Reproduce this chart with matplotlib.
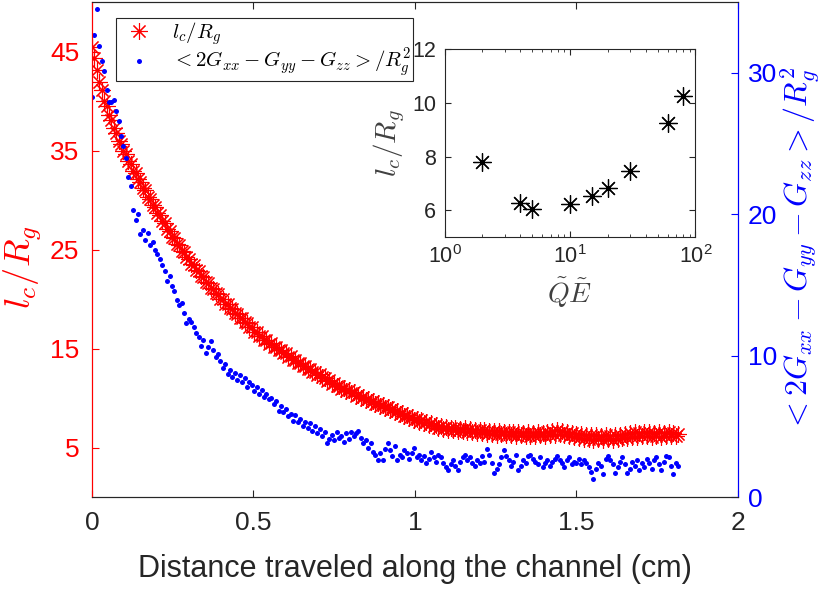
import numpy as np
import matplotlib
matplotlib.use('Agg')
import matplotlib.pyplot as plt

plt.rcParams['font.family'] = ['Liberation Sans', 'DejaVu Sans']
plt.rcParams['mathtext.fontset'] = 'cm'

# sampling step along the channel (cm)
step = 0.0075

# coil length over radius of gyration
lc_rg = [
    45.5, 44.3, 43.1, 41.9, 41.1, 40.0, 39.5, 38.6, 38.1, 37.3,
    36.8, 36.0, 35.7, 35.0, 34.6, 33.9, 33.6, 32.9, 32.7, 32.1,
    31.8, 31.2, 31.0, 30.3, 30.1, 29.5, 29.3, 28.7, 28.5, 27.9,
    27.7, 27.1, 26.9, 26.3, 26.2, 25.6, 25.5, 24.9, 24.7, 24.2,
    24.0, 23.5, 23.4, 22.9, 22.8, 22.3, 22.2, 21.7, 21.6, 21.1,
    21.0, 20.6, 20.5, 20.0, 20.0, 19.5, 19.5, 19.1, 19.0, 18.6,
    18.5, 18.1, 18.1, 17.7, 17.6, 17.2, 17.2, 16.7, 16.7, 16.3,
    16.3, 15.9, 15.9, 15.5, 15.6, 15.2, 15.2, 14.8, 14.8, 14.5,
    14.5, 14.1, 14.2, 13.8, 13.8, 13.5, 13.5, 13.2, 13.2, 12.9,
    12.9, 12.6, 12.6, 12.3, 12.4, 12.1, 12.0, 11.7, 11.8, 11.4,
    11.5, 11.2, 11.2, 10.9, 11.0, 10.7, 10.8, 10.5, 10.6, 10.2,
    10.3, 10.0, 10.1, 9.8, 9.9, 9.6, 9.7, 9.4, 9.5, 9.2,
    9.3, 9.0, 9.1, 8.8, 8.9, 8.6, 8.7, 8.4, 8.5, 8.2,
    8.3, 8.0, 8.1, 7.8, 7.9, 7.6, 7.8, 7.5, 7.6, 7.3,
    7.5, 7.2, 7.3, 7.0, 7.2, 6.9, 7.1, 6.8, 7.0, 6.8,
    7.0, 6.7, 6.9, 6.7, 7.0, 6.6, 6.9, 6.6, 6.8, 6.5,
    6.8, 6.5, 6.8, 6.4, 6.7, 6.4, 6.7, 6.3, 6.7, 6.4,
    6.6, 6.3, 6.6, 6.3, 6.6, 6.2, 6.6, 6.3, 6.5, 6.2,
    6.6, 6.2, 6.5, 6.2, 6.6, 6.3, 6.5, 6.2, 6.6, 6.3,
    6.7, 6.3, 6.8, 6.4, 6.7, 6.3, 6.6, 6.2, 6.5, 6.1,
    6.4, 6.0, 6.4, 5.9, 6.3, 5.9, 6.3, 5.8, 6.3, 5.9,
    6.2, 5.8, 6.3, 5.9, 6.2, 5.8, 6.3, 5.9, 6.3, 6.0,
    6.4, 6.0, 6.5, 6.1, 6.6, 6.1, 6.5, 6.2, 6.6, 6.2,
    6.6, 6.1, 6.5, 6.2, 6.6, 6.1, 6.5, 6.2, 6.6, 6.2,
    6.5, 6.2, 6.4,
]

# <2Gxx - Gyy - Gzz> / Rg^2
g_aniso = [
    28.3, 32.7, 34.5, 31.9, 30.8, 30.1, 28.8, 27.9, 27.9, 28.1,
    27.3, 26.6, 25.5, 24.8, 24.0, 22.6, 22.0, 20.3, 19.6, 20.0,
    18.6, 18.9, 18.2, 18.7, 17.8, 18.0, 17.5, 17.2, 16.8, 16.4,
    16.0, 15.3, 15.6, 14.9, 14.6, 13.9, 13.6, 13.7, 13.0, 12.3,
    12.6, 12.4, 12.0, 11.6, 11.3, 10.7, 11.1, 10.2, 10.6, 11.0,
    10.4, 9.9, 10.1, 9.6, 9.1, 9.4, 8.7, 9.0, 8.5, 8.8,
    8.3, 8.6, 8.1, 8.4, 7.8, 8.1, 7.9, 7.5, 7.8, 7.3,
    7.6, 7.1, 7.3, 6.9, 7.0, 6.6, 6.8, 6.1, 6.4, 6.0,
    6.2, 5.7, 5.9, 5.4, 5.8, 5.3, 5.5, 5.0, 5.3, 4.9,
    5.2, 4.7, 5.0, 4.5, 4.8, 4.3, 4.6, 3.8, 4.1, 4.4,
    4.0, 4.6, 4.2, 4.3, 3.9, 4.5, 4.1, 4.6, 4.3, 4.5,
    4.7, 4.2, 3.8, 4.0, 3.5, 3.8, 3.2, 3.0, 2.6, 3.1,
    2.6, 3.4, 3.8, 3.3, 2.9, 3.6, 2.6, 3.0, 2.8, 3.3,
    3.1, 2.7, 3.1, 3.5, 2.8, 3.0, 2.6, 2.9, 2.4, 2.7,
    3.2, 2.8, 2.5, 3.0, 2.8, 2.4, 2.1, 1.9, 2.3, 2.6,
    2.2, 1.9, 2.5, 2.8, 3.0, 2.6, 2.8, 2.4, 2.2, 2.6,
    2.4, 2.9, 2.5, 3.4, 3.0, 2.4, 1.7, 2.0, 2.3, 2.8,
    3.3, 2.9, 2.6, 2.2, 2.5, 3.0, 1.9, 2.2, 2.6, 2.4,
    2.9, 3.0, 2.7, 2.5, 2.3, 2.8, 2.1, 2.4, 2.6, 2.2,
    2.5, 2.7, 2.9, 2.6, 2.4, 2.1, 2.6, 2.8, 2.3, 2.5,
    2.4, 2.7, 2.3, 2.6, 2.4, 2.1, 1.8, 1.3, 2.0, 2.4,
    2.2, 1.6, 2.7, 2.9, 2.6, 2.3, 1.7, 2.1, 2.5, 2.8,
    2.3, 1.7, 2.0, 2.5, 2.2, 2.6, 1.9, 2.4, 2.1, 2.7,
    2.4, 2.0, 2.6, 2.8, 2.3, 1.9, 2.5, 2.9, 2.8, 2.2,
    1.6, 2.4, 2.2,
]

dist = np.arange(len(lc_rg)) * step

# inset: steady coil length vs Q~E~
qe = [2, 4, 5, 10, 15, 20, 30, 60, 80]
lc_qe = [7.8, 6.27, 6.03, 6.22, 6.53, 6.83, 7.47, 9.24, 10.26]

dark = '#262626'
asterisk = (8, 2, 0)

fig = plt.figure(figsize=(8.25, 5.9), dpi=100)
ax = fig.add_axes([0.1115, 0.1576, 0.783, 0.839])
ax2 = ax.twinx()

h1, = ax.plot(dist, lc_rg, ls='none', marker=asterisk, ms=12, mew=0.8,
              color='red', label=r'$l_c/R_g$')
h2, = ax2.plot(dist, g_aniso, ls='none', marker='o', ms=3.6, mew=0,
               color='blue', label=r'$<2G_{xx}-G_{yy}-G_{zz}>/R_g^2$')

ax.set_xlim(0, 2)
ax.set_ylim(0, 50)
ax2.set_ylim(0, 35)
ax.set_xticks([0, 0.5, 1, 1.5, 2])
ax.set_xticklabels(['0', '0.5', '1', '1.5', '2'])
ax.set_yticks([5, 15, 25, 35, 45])
ax2.set_yticks([0, 10, 20, 30])

ax.tick_params(axis='x', direction='in', top=True, length=5, colors=dark,
               labelsize=19, pad=10)
ax.tick_params(axis='y', direction='in', length=5, colors='red',
               labelsize=19, pad=9)
ax2.tick_params(axis='y', direction='in', length=5, colors='blue',
                labelsize=19, pad=7)

for a in (ax, ax2):
    a.spines['left'].set_color('red')
    a.spines['right'].set_color('blue')
    a.spines['top'].set_color(dark)
    a.spines['bottom'].set_color(dark)

ax.set_xlabel('Distance traveled along the channel (cm)', fontsize=22,
              color=dark, labelpad=14)
ax.set_ylabel(r'$l_c/R_g$', fontsize=26, color='red')
ax.yaxis.set_label_coords(-0.074, 0.465)
ax2.set_ylabel(r'$<2G_{xx}-G_{yy}-G_{zz}>/R_g^2$', fontsize=23,
               color='blue', labelpad=1)

leg = ax2.legend(handles=[h1, h2], loc='upper left',
                 bbox_to_anchor=(0.037, 0.968), fontsize=15, frameon=True,
                 fancybox=False, edgecolor=dark, framealpha=1,
                 borderpad=0.1, handletextpad=0.6, labelspacing=0.0,
                 borderaxespad=0)
leg.get_frame().set_linewidth(0.8)

# inset
axi = fig.add_axes([0.539, 0.598, 0.304, 0.319])
axi.semilogx(qe, lc_qe, ls='none', marker=asterisk, ms=13, mew=0.9,
             color='black')
axi.set_xlim(1, 100)
axi.set_ylim(5, 12)
axi.set_yticks([6, 8, 10, 12])
axi.set_xticks([1, 10, 100])
axi.set_xticklabels([r'$\mathregular{10^{0}}$', r'$\mathregular{10^{1}}$',
                     r'$\mathregular{10^{2}}$'])
axi.tick_params(which='both', direction='in', top=True, right=True,
                colors=dark, labelsize=15.5)
axi.tick_params(which='major', length=4, pad=6)
axi.tick_params(which='minor', length=2)
for s in axi.spines.values():
    s.set_color(dark)
axi.set_xlabel(r'$\tilde{Q}\tilde{E}$', fontsize=20, color='#404040',
               labelpad=5)
axi.set_ylabel(r'$l_c/R_g$', fontsize=21, color='#404040', labelpad=4)

fig.savefig('out.png', dpi=100)
